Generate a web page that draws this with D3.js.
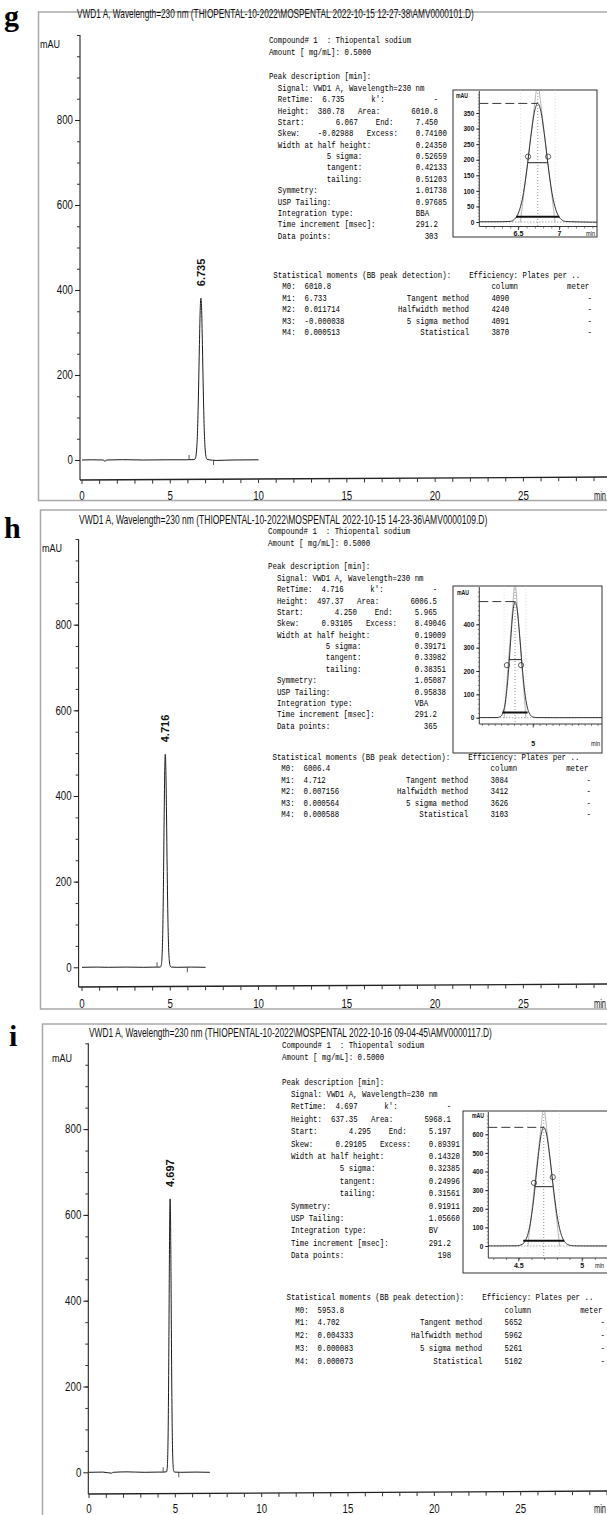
<!DOCTYPE html>
<html>
<head>
<meta charset="utf-8">
<script src="https://cdn.jsdelivr.net/npm/d3@7"></script>
<style>
body{margin:0;background:#fff}
svg{display:block}
</style>
</head>
<body>
<svg id="fig" width="607" height="1515"></svg>
<script>
// パネルごとのデータ（g, h, i）
var panelLetters = ["g", "h", "i"];
var fileNames = [
	"THIOPENTAL-10-2022\\MOSPENTAL 2022-10-15 12-27-38\\AMV0000101.D",
	"THIOPENTAL-10-2022\\MOSPENTAL 2022-10-15 14-23-36\\AMV0000109.D",
	"THIOPENTAL-10-2022\\MOSPENTAL 2022-10-16 09-04-45\\AMV0000117.D"
];
var retTimes = ["6.735", "4.716", "4.697"];
var heights = ["380.78", "497.37", "637.35"];
var areas = ["6010.8", "6006.5", "5968.1"];
var startTimes = ["6.067", "4.250", "4.295"];
var endTimes = ["7.450", "5.965", "5.197"];
var skews = ["-0.02988", "0.93105", "0.29105"];
var excesses = ["0.74100", "8.49046", "0.89391"];
var widthHalf = ["0.24350", "0.19009", "0.14320"];
var width5Sigma = ["0.52659", "0.39171", "0.32385"];
var widthTangent = ["0.42133", "0.33982", "0.24996"];
var widthTailing = ["0.51203", "0.38351", "0.31561"];
var symmetry = ["1.01738", "1.05087", "0.91911"];
var uspTailing = ["0.97685", "0.95838", "1.05660"];
var integrationType = ["BBA", "VBA", "BV"];
var timeIncrement = ["291.2", "291.2", "291.2"];
var dataPoints = ["303", "365", "198"];
var m0 = ["6010.8", "6006.4", "5953.8"];
var m1 = ["6.733", "4.712", "4.702"];
var m2 = ["0.011714", "0.007156", "0.004333"];
var m3 = ["-0.000038", "0.000564", "0.000083"];
var m4 = ["0.000513", "0.000588", "0.000073"];
var platesTangent = ["4090", "3084", "5652"];
var platesHalf = ["4240", "3412", "5962"];
var plates5Sigma = ["4091", "3626", "5261"];
var platesStat = ["3870", "3103", "5102"];

// 軸の目盛
var yTicks = [0, 200, 400, 600, 800];
var xTicks = [0, 5, 10, 15, 20, 25];
var insetYTicks = [
	[0, 50, 100, 150, 200, 250, 300, 350],
	[0, 100, 200, 300, 400],
	[0, 100, 200, 300, 400, 500, 600]
];
var insetXTicks = [[6.5, 7], [5], [4.5, 5]];

// クロマトグラム（時間[min], mAU）
var traceG = [[0,0],[0.6,0.5],[1.2,0],[1.3,-3],[1.4,0],[2.3,0.8],[3.5,0],[4.8,0.5],[5.9,0.5],[6.3,1],[6.40,2],[6.45,8.5],[6.50,28.8],[6.55,76.8],[6.60,162.4],[6.65,271.6],[6.70,359.5],[6.735,380.78],[6.77,359.5],[6.82,271.6],[6.87,162.4],[6.92,76.8],[6.97,28.8],[7.02,8.5],[7.07,2],[7.2,0.5],[7.6,-1],[8.5,0],[10,0.5]];
var traceH = [[0,0],[0.8,0.5],[1.5,0],[2.5,0.5],[3.5,0],[4.2,0.5],[4.436,0.5],[4.486,4.5],[4.526,20],[4.566,67],[4.606,170],[4.646,322],[4.686,459],[4.716,497.37],[4.746,469],[4.786,360],[4.826,224],[4.866,113],[4.906,46],[4.946,15],[4.996,3],[5.056,0.5],[5.4,0],[6.2,0.5],[7,0]];
var traceI = [[0,0],[0.8,0.5],[1.3,-2],[1.4,0],[2.2,1],[3.2,0],[4.0,0.5],[4.3,0.5],[4.487,1],[4.527,9],[4.557,35],[4.587,106],[4.617,246],[4.647,440],[4.677,600],[4.697,637.35],[4.717,607],[4.747,468],[4.777,289],[4.807,143],[4.837,57],[4.867,18],[4.907,3],[4.957,0.5],[5.3,0],[6.2,0.5],[7,0]];
var traces = [traceG, traceH, traceI];

// 挿入図の丸印（時間, mAU）
var circleTimes = [[6.617, 6.861], [4.59, 4.81], [4.62, 4.768]];
var circleLevels = [[210, 210], [225, 225], [339, 370]];

var sans = "'Liberation Sans Narrow','Arial Narrow','Liberation Sans',Arial,sans-serif";
var mono = "'Liberation Mono','Courier New',monospace";
var ink = "#111";

// 配置（各パネルの位置）
var layouts = [
	{ frame:[38.5, 12, 500.5], letter:[4, 26], title:[77, 18, 397], mAU:[40, 48],
	  yAxisX:80, yr:[460, 35], xr:[82, 523.4], xAxisY:480, xLabelY:500, traceEnd:10,
	  text:{ x0:268.9, cw:4.45, top:[43, 55, 79, 91], step:11.35, stat:278, statStep:11.4 },
	  inset:{ box:[453, 90, 597, 237], ax:479.3, xd:[6.024, 7.456], y0:222, yTop:[350, 113], axisY:226.5, labelY:236, minor:10, mAU:[456, 98] } },
	{ frame:[40.5, 510, 1009], letter:[4, 538], title:[79, 524, 409], mAU:[42, 552],
	  yAxisX:78.6, yr:[967.3, 539], xr:[82, 523.4], xAxisY:987, xLabelY:1008, traceEnd:7,
	  text:{ x0:268, cw:4.45, top:[534, 546, 569, 581], step:11.35, stat:760, statStep:11.4 },
	  inset:{ box:[453, 586, 602, 753], ax:479.3, xd:[4.16, 6.07], y0:717.7, yTop:[400, 624.3], axisY:724, labelY:746, minor:20, mAU:[457, 595] } },
	{ frame:[42.5, 1024, 1530], letter:[9, 1046], title:[89, 1037, 403], mAU:[52, 1062],
	  yAxisX:88.3, yr:[1472.3, 1043.3], xr:[89, 520.7], xAxisY:1494, xLabelY:1513, traceEnd:7,
	  text:{ x0:282, cw:4.45, top:[1048, 1060, 1085, 1097], step:12.4, stat:1300, statStep:12.7 },
	  inset:{ box:[463, 1111, 612, 1273], ax:488.3, xd:[4.26, 5.235], y0:1246, yTop:[600, 1134.3], axisY:1258, labelY:1268, minor:20, mAU:[472, 1118] } }
];

var svg = d3.select("#fig");

// 文字列を指定の幅に横方向だけ縮めて置く
function fitText(t, x, y, w) {
	var n = t.node().getComputedTextLength();
	t.attr("x", 0).attr("y", 0)
		.attr("transform", "translate(" + x + "," + y + ") scale(" + (w / n) + ",1)");
	return t;
}

// 等幅テキストを桁位置で描く
function monoRow(g, T, y, segs) {
	segs.forEach(function(s) {
		var t = g.append("text")
			.attr("font-family", mono)
			.attr("font-size", 9.6)
			.attr("fill", "#000")
			.style("white-space", "pre")
			.text(s[1]);
		fitText(t, T.x0 + s[0] * T.cw, y, s[1].length * T.cw);
	});
}

function narrow(sel, w) {	// 細い書体の見た目に合わせる
	sel.each(function() {
		var t = d3.select(this);
		t.attr("textLength", t.text().length * w).attr("lengthAdjust", "spacingAndGlyphs");
	});
}

function drawReport(g, T, k) {
	monoRow(g, T, T.top[0], [[0, "Compound# 1  : Thiopental sodium"]]);
	monoRow(g, T, T.top[1], [[0, "Amount [ mg/mL]: 0.5000"]]);
	monoRow(g, T, T.top[2], [[0, "Peak description [min]:"]]);
	monoRow(g, T, T.top[3], [[2, "Signal: VWD1 A, Wavelength=230 nm"]]);
	var rows = [
		[[2, "RetTime:"], [12, retTimes[k]], [23, "k':"], [37, "-"]],
		[[2, "Height:"], [11, heights[k]], [20, "Area:"], [38 - areas[k].length, areas[k]]],
		[[2, "Start:"], [20 - startTimes[k].length, startTimes[k]], [24, "End:"], [38 - endTimes[k].length, endTimes[k]]],
		[[2, "Skew:"], [19 - skews[k].length, skews[k]], [22, "Excess:"], [33, excesses[k]]],
		[[2, "Width at half height:"], [33, widthHalf[k]]],
		[[13, "5 sigma:"], [33, width5Sigma[k]]],
		[[13, "tangent:"], [33, widthTangent[k]]],
		[[13, "tailing:"], [33, widthTailing[k]]],
		[[2, "Symmetry:"], [33, symmetry[k]]],
		[[2, "USP Tailing:"], [33, uspTailing[k]]],
		[[2, "Integration type:"], [33, integrationType[k]]],
		[[2, "Time increment [msec]:"], [33, timeIncrement[k]]],
		[[2, "Data points:"], [38 - dataPoints[k].length, dataPoints[k]]]
	];
	rows.forEach(function(r, i) {
		monoRow(g, T, T.top[3] + (i + 1) * T.step, r);
	});
	var s = T.stat, d = T.statStep;
	monoRow(g, T, s, [[1, "Statistical moments (BB peak detection):"], [45, "Efficiency: Plates per .."]]);
	monoRow(g, T, s + d, [[3, "M0:"], [8, m0[k]], [50, "column"], [67, "meter"]]);
	monoRow(g, T, s + 2 * d, [[3, "M1:"], [8, m1[k]], [31, "Tangent method"], [50, platesTangent[k]], [71.6, "-"]]);
	monoRow(g, T, s + 3 * d, [[3, "M2:"], [8, m2[k]], [29, "Halfwidth method"], [50, platesHalf[k]], [71.6, "-"]]);
	monoRow(g, T, s + 4 * d, [[3, "M3:"], [8, m3[k]], [31, "5 sigma method"], [50, plates5Sigma[k]], [71.6, "-"]]);
	monoRow(g, T, s + 5 * d, [[3, "M4:"], [8, m4[k]], [34, "Statistical"], [50, platesStat[k]], [71.6, "-"]]);
}

function drawInset(g, I, k) {
	var rt = +retTimes[k], H = +heights[k];
	var x = d3.scaleLinear().domain(I.xd).range([I.ax, I.box[2]]);
	var y = d3.scaleLinear().domain([0, I.yTop[0]]).range([I.y0, I.yTop[1]]);
	var b = I.box;

	g.append("rect").attr("x", b[0]).attr("y", b[1]).attr("width", b[2] - b[0]).attr("height", b[3] - b[1])
		.attr("fill", "#fff").attr("stroke", "#333").attr("stroke-width", 1);

	var clipId = "clip" + k;
	g.append("clipPath").attr("id", clipId).append("rect")
		.attr("x", I.ax).attr("y", b[1]).attr("width", b[2] - I.ax).attr("height", I.axisY - b[1]);
	var p = g.append("g").attr("clip-path", "url(#" + clipId + ")");

	// ベースライン（点線）
	p.append("line").attr("x1", I.ax).attr("x2", b[2]).attr("y1", y(0)).attr("y2", y(0))
		.attr("stroke", "#555").attr("stroke-width", 0.7).attr("stroke-dasharray", "1,2");
	// 保持時間の縦点線
	p.append("line").attr("x1", x(rt)).attr("x2", x(rt)).attr("y1", b[1]).attr("y2", I.axisY)
		.attr("stroke", "#666").attr("stroke-width", 0.7).attr("stroke-dasharray", "1,2");
	// 接線
	var tw = +widthTangent[k] / 2;
	var tangent = [[rt - tw, 0], [rt, H * 1.213], [rt + tw, 0]];
	p.append("path").datum(tangent)
		.attr("d", d3.line().x(function(d){ return x(d[0]); }).y(function(d){ return y(d[1]); }))
		.attr("fill", "none").attr("stroke", "#888").attr("stroke-width", 0.6);
	[rt - tw, rt + tw].forEach(function(t) {
		p.append("line").attr("x1", x(t)).attr("x2", x(t)).attr("y1", b[1]).attr("y2", I.axisY)
			.attr("stroke", "#bbb").attr("stroke-width", 0.5).attr("stroke-dasharray", "1,2");
	});
	// ピーク
	p.append("path").datum(traces[k])
		.attr("d", d3.line().x(function(d){ return x(d[0]); }).y(function(d){ return y(d[1]); }).curve(d3.curveMonotoneX))
		.attr("fill", "none").attr("stroke", "#222").attr("stroke-width", 0.9);
	// 高さの破線
	p.append("line").attr("x1", I.ax).attr("x2", x(rt)).attr("y1", y(H)).attr("y2", y(H))
		.attr("stroke", "#222").attr("stroke-width", 0.9).attr("stroke-dasharray", "9,4");
	// 半値幅
	var hw = +widthHalf[k] / 2;
	p.append("line").attr("x1", x(rt - hw)).attr("x2", x(rt + hw)).attr("y1", y(H / 2)).attr("y2", y(H / 2))
		.attr("stroke", "#222").attr("stroke-width", 1);
	// 5シグマ幅（太線）
	var sw = +width5Sigma[k] / 2;
	p.append("line").attr("x1", x(rt - sw)).attr("x2", x(rt + sw)).attr("y1", y(H * 0.044)).attr("y2", y(H * 0.044))
		.attr("stroke", "#111").attr("stroke-width", 2);
	// 丸印
	p.selectAll("circle").data(circleTimes[k]).enter().append("circle")
		.attr("cx", function(d){ return x(d); })
		.attr("cy", function(d, i){ return y(circleLevels[k][i]); })
		.attr("r", 2.6).attr("fill", "none").attr("stroke", "#333").attr("stroke-width", 0.8);

	// y軸
	g.append("line").attr("x1", I.ax).attr("x2", I.ax).attr("y1", b[1] + 1).attr("y2", I.axisY)
		.attr("stroke", "#222").attr("stroke-width", 0.9);
	var minorY = g.append("g").attr("transform", "translate(" + I.ax + ",0)")
		.call(d3.axisLeft(y).tickValues(d3.range(0, y.invert(b[1] + 2), I.minor)).tickSize(1.5).tickFormat(""));
	minorY.select(".domain").remove();
	minorY.selectAll("line").attr("stroke", "#444").attr("stroke-width", 0.6);
	var ya = g.append("g").attr("transform", "translate(" + I.ax + ",0)")
		.call(d3.axisLeft(y).tickValues(insetYTicks[k]).tickSize(3).tickPadding(2));
	ya.select(".domain").remove();
	ya.selectAll("line").attr("stroke", "#222");
	ya.selectAll("text").attr("font-family", sans).attr("font-size", 7).attr("fill", ink).attr("font-weight", "bold");
	narrow(ya.selectAll("text"), 3.6);
	g.append("text").attr("x", I.mAU[0]).attr("y", I.mAU[1]).text("mAU")
		.attr("font-family", sans).attr("font-size", 7).attr("font-weight", "bold").attr("fill", ink)
		.attr("textLength", 12).attr("lengthAdjust", "spacingAndGlyphs");

	// x軸
	g.append("line").attr("x1", I.ax).attr("x2", b[2]).attr("y1", I.axisY).attr("y2", I.axisY)
		.attr("stroke", "#222").attr("stroke-width", 0.9);
	var xm = g.append("g").attr("transform", "translate(0," + I.axisY + ")")
		.call(d3.axisBottom(x).tickValues(d3.range(Math.ceil(I.xd[0] * 10) / 10, I.xd[1], 0.1)).tickSize(2).tickFormat(""));
	xm.select(".domain").remove();
	xm.selectAll("line").attr("stroke", "#333").attr("stroke-width", 0.6);
	g.selectAll(null).data(insetXTicks[k]).enter().append("line")
		.attr("x1", function(d){ return x(d); }).attr("x2", function(d){ return x(d); })
		.attr("y1", I.axisY).attr("y2", I.axisY + 3.5).attr("stroke", "#222").attr("stroke-width", 0.8);
	g.selectAll(null).data(insetXTicks[k]).enter().append("text")
		.attr("x", function(d){ return x(d); }).attr("y", I.labelY)
		.attr("text-anchor", "middle").attr("font-family", sans).attr("font-size", 7).attr("font-weight", "bold").attr("fill", ink)
		.text(function(d){ return d; });
	g.append("text").attr("x", Math.min(b[2], 606) - 11).attr("y", I.labelY).text("min")
		.attr("font-family", sans).attr("font-size", 7).attr("fill", ink)
		.attr("textLength", 9).attr("lengthAdjust", "spacingAndGlyphs");
}

function drawPanel(L, k) {
	var g = svg.append("g");
	var x = d3.scaleLinear().domain([0, 25]).range(L.xr);
	var y = d3.scaleLinear().domain([0, 1000]).range(L.yr);
	var rt = +retTimes[k], H = +heights[k];

	// 枠
	g.append("rect").attr("x", L.frame[0]).attr("y", L.frame[1])
		.attr("width", 700).attr("height", L.frame[2] - L.frame[1])
		.attr("fill", "none").attr("stroke", "#a9a9a9").attr("stroke-width", 1.5);

	// パネル記号
	g.append("text").attr("x", L.letter[0]).attr("y", L.letter[1]).text(panelLetters[k])
		.attr("font-family", "'Liberation Serif','Times New Roman',serif").attr("font-weight", "bold")
		.attr("font-size", 30).attr("fill", "#000");

	// タイトル
	var title = g.append("text")
		.attr("font-family", sans).attr("font-size", 12).attr("fill", ink)
		.text("VWD1 A, Wavelength=230 nm (" + fileNames[k] + ")");
	fitText(title, L.title[0], L.title[1], L.title[2]);

	g.append("text").attr("x", L.mAU[0]).attr("y", L.mAU[1]).text("mAU")
		.attr("font-family", sans).attr("font-size", 11.5).attr("fill", ink)
		.attr("textLength", 20).attr("lengthAdjust", "spacingAndGlyphs");

	// y軸
	g.append("line").attr("x1", L.yAxisX).attr("x2", L.yAxisX).attr("y1", y(1000)).attr("y2", L.xAxisY)
		.attr("stroke", "#222").attr("stroke-width", 1.1);
	var minor = g.append("g").attr("transform", "translate(" + L.yAxisX + ",0)")
		.call(d3.axisLeft(y).tickValues(d3.range(50, 1001, 50)).tickSize(3).tickFormat(""));
	minor.select(".domain").remove();
	minor.selectAll("line").attr("stroke", "#333");
	var ya = g.append("g").attr("transform", "translate(" + L.yAxisX + ",0)")
		.call(d3.axisLeft(y).tickValues(yTicks).tickSize(5).tickPadding(2));
	ya.select(".domain").remove();
	ya.selectAll("line").attr("stroke", "#222");
	ya.selectAll("text").attr("font-family", sans).attr("font-size", 12).attr("fill", ink);
	narrow(ya.selectAll("text"), 5.4);

	// x軸
	g.append("line").attr("x1", L.yAxisX).attr("x2", 607).attr("y1", L.xAxisY).attr("y2", L.xAxisY - 3)
		.attr("stroke", "#222").attr("stroke-width", 1.3);
	var xm = g.append("g").attr("transform", "translate(0," + L.xAxisY + ")")
		.call(d3.axisBottom(x).tickValues(d3.range(0, 31, 1)).tickSize(4).tickFormat(""));
	xm.select(".domain").remove();
	xm.selectAll("line").attr("stroke", "#333");
	xm.selectAll(".tick").attr("transform", function(d){ return "translate(" + x(d) + "," + (-3 * (x(d) - L.yAxisX) / (607 - L.yAxisX)) + ")"; });
	g.selectAll(null).data(xTicks).enter().append("text")
		.attr("x", function(d){ return x(d); }).attr("y", L.xLabelY)
		.attr("text-anchor", "middle").attr("font-family", sans).attr("font-size", 12).attr("fill", ink)
		.attr("textLength", function(d){ return String(d).length * 5.4; }).attr("lengthAdjust", "spacingAndGlyphs")
		.text(function(d){ return d; });
	var minLabel = g.append("text").text("min")
		.attr("font-family", sans).attr("font-size", 12).attr("fill", ink);
	fitText(minLabel, 594, L.xLabelY, 12);

	// クロマトグラム
	var data = traces[k].filter(function(d){ return d[0] <= L.traceEnd; });
	g.append("path").datum(data)
		.attr("d", d3.line().x(function(d){ return x(d[0]); }).y(function(d){ return y(d[1]); }).curve(d3.curveMonotoneX))
		.attr("fill", "none").attr("stroke", "#1c1c1c").attr("stroke-width", 1);
	// 開始・終了マーカー
	g.append("line").attr("x1", x(+startTimes[k])).attr("x2", x(+startTimes[k]))
		.attr("y1", y(0)).attr("y2", y(0) - 5).attr("stroke", "#333").attr("stroke-width", 0.8);
	g.append("line").attr("x1", x(+endTimes[k])).attr("x2", x(+endTimes[k]))
		.attr("y1", y(0)).attr("y2", y(0) + 5).attr("stroke", "#333").attr("stroke-width", 0.8);

	// ピークラベル
	g.append("text")
		.attr("transform", "translate(" + (x(rt) + 4) + "," + (y(H) - 12) + ") rotate(-90)")
		.attr("font-family", "'Liberation Sans',Arial,sans-serif").attr("font-weight", "bold")
		.attr("font-size", 11).attr("fill", ink).text(retTimes[k]);

	drawReport(g, L.text, k);
	drawInset(g, L.inset, k);
}

layouts.forEach(function(L, k){ drawPanel(L, k); });
</script>
</body>
</html>
